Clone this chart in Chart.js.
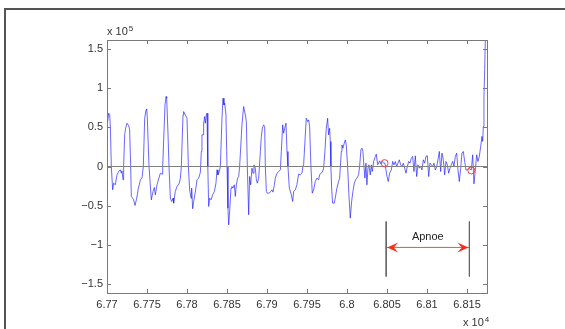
<!DOCTYPE html>
<html>
<head>
<meta charset="utf-8">
<script src="https://cdn.jsdelivr.net/npm/chart.js@4/dist/chart.umd.min.js"></script>
<style>
  html, body { margin: 0; padding: 0; background: #fff; overflow: hidden; }
  #wrap { position: relative; width: 565px; height: 329px; overflow: hidden; }
  #frame { position: absolute; left: 4px; top: 8px; width: 700px; height: 500px; border: 2px solid #555; }
  canvas { position: absolute; left: 0; top: 0; }
</style>
</head>
<body>
<div id="wrap">
  <div id="frame"></div>
  <canvas id="apnoeChart" width="565" height="329"></canvas>
</div>
<script>
// sample index (raw, axis shown as x 10^4) and signal amplitude (axis shown as x 10^5)
var time = [
  67700, 67702.1, 67703.3, 67704.2, 67705.4, 67707.1, 67708.3, 67710.4, 67712.5, 67714.6, 67716.7, 67717.9, 67718.8, 67720,
  67720.8, 67722.1, 67723.3, 67725, 67727.1, 67728.3, 67729.6, 67730.4, 67732.1, 67733.3, 67735, 67736.7, 67737.9, 67739.2, 67740.4, 67741.7, 67743.8,
  67745.4, 67747.1, 67748.8, 67749.6, 67750.4, 67752.5, 67755.4, 67757.5, 67759.2, 67760.4, 67762.5, 67764.6, 67766.7, 67768.8,
  67769.6, 67772.5, 67773.8, 67774.6, 67776.3, 67777.5, 67779.2, 67780.8, 67782.5, 67783.3, 67785.4, 67787.5, 67790.4, 67791.7,
  67792.9, 67795, 67795.8, 67797.9, 67800, 67801.7, 67803.3, 67805, 67805.8, 67807.1, 67808.3, 67810.4, 67812.5, 67814.6, 67816.7,
  67817.9, 67818.7, 67820, 67820.8, 67822.1, 67822.9, 67824.2, 67825, 67825.8, 67826.2, 67827.1, 67828.3, 67830, 67832.1, 67834.2, 67836.2, 67837.5, 67838.7, 67840.4,
  67841.7, 67843.7, 67845, 67846.2, 67847.1, 67848.7, 67850, 67851.2, 67852.1, 67853.3, 67855, 67856.2, 67857.5, 67859.2, 67860.4, 67861.7, 67863.3, 67864.6,
  67865.8, 67868.7, 67870.8, 67872.9, 67874.2, 67875.4, 67877.1, 67878.3, 67879.6, 67881.2, 67882.5, 67883.7, 67885.4, 67886.7, 67887.9, 67889.6,
  67891.7, 67892.9, 67894.2, 67895.8, 67897.1, 67897.9, 67899.2, 67900.4, 67902.9, 67904.6, 67906.2, 67907.5, 67909.2, 67910.4, 67912.5, 67914.6, 67916.7,
  67917.9, 67919.6, 67920.8, 67922.1, 67923.7, 67925, 67926.2, 67927.9, 67930.4, 67932.1, 67933.3, 67935.4, 67937.4, 67939.5, 67941.6, 67943.7,
  67944.9, 67945.8, 67947.9, 67949.1, 67950.8, 67952, 67953.3, 67954.9, 67956.6, 67958.3, 67960.3, 67962.4, 67964.5, 67965.8, 67967.4, 67969.1, 67970.8,
  67972.4, 67974.1, 67975.8, 67977, 67978.3, 67979.1, 67979.9, 67980.8, 67982, 67984.1, 67985.3, 67987.4, 67989.5, 67990.8, 67991.6,
  67992.9, 67993.7, 67994.9, 67996.6, 67997.9, 67999.1, 68000.8, 68002.4, 68004.1, 68005.8, 68007.4, 68009.1, 68010.8, 68012.4, 68014.5,
  68015.8, 68017.4, 68018.7, 68019.9, 68021.2, 68022.4, 68023.7, 68024.9, 68026.2, 68027.4, 68029.1, 68030.4, 68031.6, 68033.3, 68035.4, 68036.6, 68038.3, 68039.5, 68040.8, 68042.4, 68044.1, 68045.8, 68047.4,
  68048.7, 68050, 68051.6, 68053.3, 68055.4, 68057.1, 68058.7, 68060.4, 68062.1, 68063.7, 68065.4, 68067.1, 68068.7, 68070.4, 68072.1, 68073.7, 68075.4, 68077.1, 68078.7, 68080.4,
  68082.1, 68083.7, 68085.4, 68087.1, 68088.7, 68090.4, 68092.1, 68093.7, 68095.4, 68097.1, 68098.7, 68100.4, 68102.1, 68103.7, 68105.4, 68107.1, 68108.7, 68110.4, 68112.1, 68113.7,
  68115.4, 68117.1, 68118.7, 68120.4, 68122.1, 68123.7, 68125.4, 68127.1, 68128.7, 68130.4, 68132.1, 68133.7, 68135.4, 68137.1, 68138.7, 68140.4, 68142.1, 68143.7, 68145.4, 68147.1,
  68148.7, 68150.4, 68152.1, 68153.7, 68155.4, 68157.1, 68158.7, 68160.4, 68162.1, 68163.7, 68165.4, 68167.1, 68168.7, 68169.6, 68170.4, 68171.2, 68172.1, 68172.9, 68174
];
var amp = [
  50800, 67800, 66500, 50800, 0, -29700, -21200, -23300, -10600, -6400, -4200, -8500, -5500, -17000,
  0, 40300, 48700, 55100, 52100, 46600, 0, -38100, -40300, -42400, -49600, -42400, -36000, -27500, -23300, -17000, -14000,
  0, 61400, 72000, 73300, 61400, 0, -42400, -31800, -26700, -36000, -23300, -15700, -8500, -9700,
  0, 78400, 89000, 86900, 40300, 0, -40300, -44500, -40300, -46600, -31800, -25400, -21200, -14800,
  0, 65700, 69900, 65700, 61400, 0, -29700, -40300, -27500, -53800, -44500, -32600, -17000, -14800, -7200,
  19100, 40300, 40300, 55100, 63600, 55100, 65700, 67800, 40300, 0, -50800, -40300, -42400, -36000, -31800, -21200, -4200, -10600, -6400,
  0, 61400, 86900, 78400, 80500, 65700, 0, -53000, -74200, -57200, -27500, -25400, -27500, -23300, -38100, -23300, -14800, -12700,
  0, 53000, 76300, 65700, 57200, 0, -61400, -12700, -23300, -2100, -8500, 2100, -2100, -17000, -21200, -14800,
  19100, 38100, 48700, 53000, 50800, 0, -31800, -33900, -33900, -31800, -29700, -32600, -23300, -14800, -8500, -6400, -4200,
  19100, 53000, 42400, 48700, 55100, 19100, 0, -27500, -36000, -44500, -31800, -29700, -23300, -9700, -10600, -8500,
  0, 2100, 40300, 61400, 57200, 59300, 50800, 0, -33900, -29700, -19100, -14800, -17000, -10600, -8500, -7200, -2100,
  19100, 48700, 61400, 40300, 48700, 31800, 0, -27500, -46600, -46600, -40300, -27500, -19100, -14800, -2100,
  19100, 27500, 23300, 29700, 33900, 27500, 0, -36000, -65700, -44500, -31800, -21200, -17000, -14800, -10600,
  0, 21200, 23300, 19100, 0, -14800, 4200, -23300, -2100, 2100, -10600, 2100, -6400, 6400, 12700, 15700, 2100, 4200, 7200, 3000, 6400, 4200, 4300,
  -4300, -12800, -19100, -8500, -4300, 6400, 2100, 6400, 0, 4300, 8500, 2100, 0, 4300, -2100, -8500, 0, 6400, 4300, 10600,
  12800, -6400, 13600, -12800, 2100, -2100, 0, -4300, 8500, 4300, 12800, 13600, -12800, 4300, 2100, 0, 4300, -4300, 0, 8500,
  19100, -6400, 17000, 8500, -10600, 6400, 2100, -8500, -2100, 2100, 6400, 0, 12800, 17000, -4300, -19100, -2100, 17000, 19100, 6400,
  -4300, -4300, -2100, -3400, -4300, 14900, -22100, -4300, 14900, 6400, 12800, 25500, 38300, 31900, 51000, 89300, 123300, 161600, 200000
];

// red circle markers (start / end of the apnoe)
var markX = [68047, 68155.4];
var markY = [4300, -5000];

// apnoe annotation: bracket lines and arrow
var apnoeX = [68049, 68153];
var apnoeLineY = [-70000, -140000];
var apnoeArrowY = -103000;
var apnoeTextY = -89500;
var apnoeLabel = 'Apnoe';

var xRange = [67700, 68175];
var yRange = [-161000, 161000];
var xTicks = [67700, 67750, 67800, 67850, 67900, 67950, 68000, 68050, 68100, 68150];
var xTickLabels = ['6.77', '6.775', '6.78', '6.785', '6.79', '6.795', '6.8', '6.805', '6.81', '6.815'];
var yTicks = [-150000, -100000, -50000, 0, 50000, 100000, 150000];
var yTickLabels = ['\u22121.5', '\u22121', '\u22120.5', '0', '0.5', '1', '1.5'];

var FONT = '"Liberation Sans", Arial, Helvetica, sans-serif';
var AXIS = '#7a7a7a';

function pts(xs, ys) {
  return xs.map(function (x, i) { return { x: x, y: ys[i] }; });
}

function arrowHead(ctx, tipX, y, dir) {
  var L = 11, W = 5;
  ctx.beginPath();
  ctx.moveTo(tipX, y);
  ctx.lineTo(tipX + dir * L, y - W);
  ctx.lineTo(tipX + dir * L * 0.6, y);
  ctx.lineTo(tipX + dir * L, y + W);
  ctx.closePath();
  ctx.fill();
}

var matlabAxes = {
  id: 'matlabAxes',
  afterDraw: function (chart) {
    var ctx = chart.ctx, a = chart.chartArea;
    var xs = chart.scales.x, ys = chart.scales.y;
    ctx.save();
    // box
    ctx.strokeStyle = AXIS;
    ctx.lineWidth = 1;
    ctx.strokeRect(Math.round(a.left) + 0.5, Math.round(a.top) + 0.5, Math.round(a.right - a.left), Math.round(a.bottom - a.top));
    // inward ticks
    ctx.beginPath();
    xTicks.forEach(function (v) {
      var px = Math.round(xs.getPixelForValue(v)) + 0.5;
      ctx.moveTo(px, a.bottom); ctx.lineTo(px, a.bottom - 4);
      ctx.moveTo(px, a.top); ctx.lineTo(px, a.top + 4);
    });
    yTicks.forEach(function (v) {
      var py = Math.round(ys.getPixelForValue(v)) + 0.5;
      ctx.moveTo(a.left, py); ctx.lineTo(a.left + 4, py);
      ctx.moveTo(a.right, py); ctx.lineTo(a.right - 4, py);
    });
    ctx.stroke();

    // arrow heads
    ctx.fillStyle = '#ff2a1a';
    var ay = ys.getPixelForValue(apnoeArrowY);
    arrowHead(ctx, xs.getPixelForValue(apnoeX[0]) + 1, ay, 1);
    arrowHead(ctx, xs.getPixelForValue(apnoeX[1]) - 1, ay, -1);

    // label
    ctx.fillStyle = '#222';
    ctx.font = '11px ' + FONT;
    ctx.textAlign = 'center';
    ctx.textBaseline = 'middle';
    ctx.fillText(apnoeLabel, xs.getPixelForValue((apnoeX[0] + apnoeX[1]) / 2), ys.getPixelForValue(apnoeTextY));

    // exponent labels
    ctx.textAlign = 'left';
    ctx.textBaseline = 'alphabetic';
    ctx.fillStyle = '#333';
    ctx.font = '11px ' + FONT;
    ctx.fillText('x 10', a.left, 35);
    var w5 = ctx.measureText('x 10').width;
    ctx.font = '8px ' + FONT;
    ctx.fillText('5', a.left + w5 + 1, 31);
    ctx.font = '11px ' + FONT;
    ctx.fillText('x 10', 463, 326);
    var w4 = ctx.measureText('x 10').width;
    ctx.font = '8px ' + FONT;
    ctx.fillText('4', 463 + w4 + 1, 322);
    ctx.restore();
  }
};

var ctx = document.getElementById('apnoeChart').getContext('2d');
new Chart(ctx, {
  type: 'line',
  data: {
    datasets: [
      { data: pts(markX, markY), showLine: false, pointRadius: 3.5, pointStyle: 'circle', pointBorderColor: '#ff4040', pointBackgroundColor: 'rgba(0,0,0,0)', pointBorderWidth: 1 },
      { data: pts(xRange, [0, 0]), borderColor: '#808080', borderWidth: 1.2, pointRadius: 0 },
      { data: pts(time, amp), borderColor: 'rgba(30,30,255,0.75)', borderWidth: 0.9, pointRadius: 0, tension: 0 },
      { data: pts([apnoeX[0], apnoeX[0]], apnoeLineY), borderColor: '#666', borderWidth: 1, pointRadius: 0 },
      { data: pts([apnoeX[1], apnoeX[1]], apnoeLineY), borderColor: '#666', borderWidth: 1, pointRadius: 0 },
      { data: pts(apnoeX, [apnoeArrowY, apnoeArrowY]), borderColor: '#ff4a3a', borderWidth: 1, pointRadius: 0 }
    ]
  },
  options: {
    responsive: false,
    animation: false,
    events: [],
    layout: { padding: { top: 40, right: 78, left: 0, bottom: 0 } },
    plugins: { legend: { display: false }, tooltip: { enabled: false } },
    scales: {
      x: {
        type: 'linear', min: xRange[0], max: xRange[1],
        grid: { display: false, drawTicks: false }, border: { display: false },
        afterBuildTicks: function (s) { s.ticks = xTicks.map(function (v) { return { value: v }; }); },
        afterFit: function (s) { s.height = 36; },
        ticks: { padding: 5, autoSkip: false, maxRotation: 0, color: '#333', font: { family: FONT, size: 11 },
          callback: function (v) { return xTickLabels[xTicks.indexOf(v)]; } }
      },
      y: {
        type: 'linear', min: yRange[0], max: yRange[1],
        grid: { display: false, drawTicks: false }, border: { display: false },
        afterBuildTicks: function (s) { s.ticks = yTicks.map(function (v) { return { value: v }; }); },
        afterFit: function (s) { s.width = 107; },
        ticks: { padding: 4, autoSkip: false, color: '#333', font: { family: FONT, size: 11 },
          callback: function (v) { return yTickLabels[yTicks.indexOf(v)]; } }
      }
    }
  },
  plugins: [matlabAxes]
});
</script>
</body>
</html>
